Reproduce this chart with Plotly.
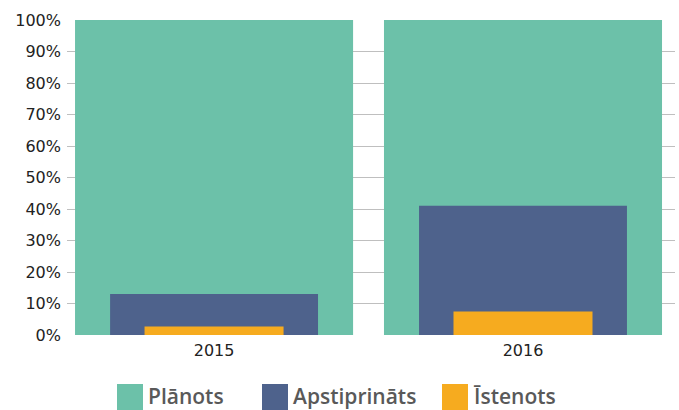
import plotly.graph_objects as go

categories = ["2015", "2016"]
planots = [100, 100]
apstiprinats = [13, 41]
istenots = [2.7, 7.5]

series_names = ["Plānots", "Apstiprināts", "Īstenots"]
colors = ["#6CC1A9", "#4E628C", "#F6AB1F"]
widths = [0.9, 0.673, 0.45]
tick_vals = list(range(0, 101, 10))
tick_text = [f"{v}%" for v in tick_vals]

fig = go.Figure()
for name, vals, col, w in zip(series_names, [planots, apstiprinats, istenots], colors, widths):
    fig.add_trace(go.Bar(x=[0, 1], y=vals, name=name, marker=dict(color=col, line=dict(width=0)),
                         width=w, showlegend=False))

fig.update_layout(
    width=679, height=410,
    margin=dict(l=67, r=4, t=20, b=75),
    barmode="overlay",
    plot_bgcolor="white", paper_bgcolor="white",
    font=dict(family="DejaVu Sans", size=16, color="#222222"),
    xaxis=dict(range=[-0.476, 1.492], tickvals=[0, 1], ticktext=categories,
               showgrid=False, zeroline=False, showline=False, ticks="", fixedrange=True,
               ticklabelstandoff=4),
    yaxis=dict(range=[0, 100], tickvals=tick_vals, ticktext=tick_text,
               showgrid=True, gridcolor="#BFBFBF", gridwidth=1.3, zeroline=False,
               showline=False, ticks="", ticklabelstandoff=5),
)

# legend drawn manually
leg_x = [117, 262, 442]
W, H = 679, 410
pw = W - 67 - 4
ph = H - 20 - 75
for name, col, x in zip(series_names, colors, leg_x):
    fig.add_shape(type="rect", xref="paper", yref="paper",
                  x0=(x - 67) / pw, x1=(x + 26 - 67) / pw,
                  y0=(335 - 410) / ph, y1=(335 - 384) / ph,
                  fillcolor=col, line=dict(width=0))
    fig.add_annotation(xref="paper", yref="paper", x=(x + 29 - 67) / pw, y=(335 - 396) / ph,
                       text=name, showarrow=False, xanchor="left", yanchor="middle",
                       font=dict(family="Open Sans", size=21, color="#595959", weight=600))

fig.write_html("out.html", config={"displayModeBar": False},
               post_script="document.body.style.margin='0';")
